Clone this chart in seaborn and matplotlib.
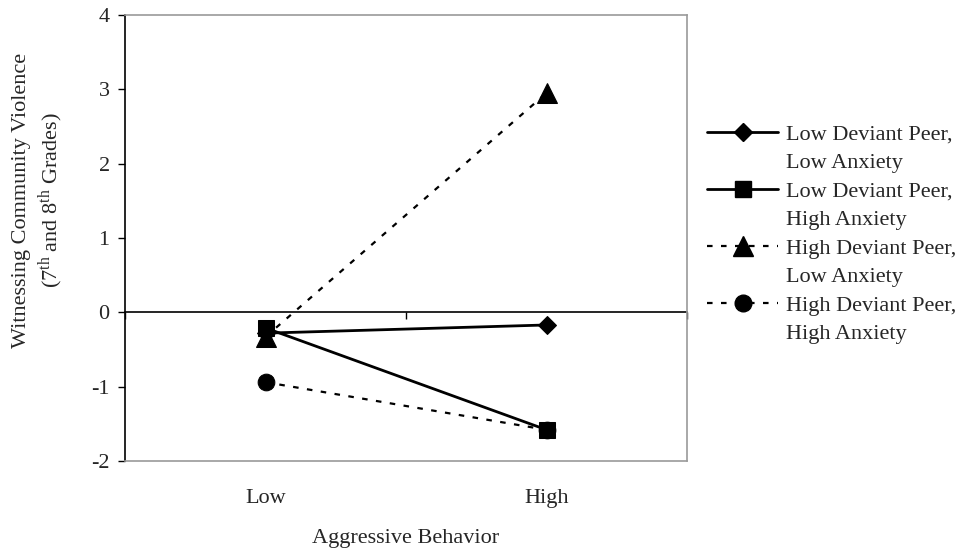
import numpy as np
import pandas as pd
import matplotlib
matplotlib.use("Agg")
import matplotlib.pyplot as plt
from matplotlib.lines import Line2D
import seaborn as sns

# data
aggression = ["Low", "High"]
series_names = [
    "Low Deviant Peer,\nLow Anxiety",
    "Low Deviant Peer,\nHigh Anxiety",
    "High Deviant Peer,\nLow Anxiety",
    "High Deviant Peer,\nHigh Anxiety",
]
low_peer_low_anx = [-0.28, -0.17]
low_peer_high_anx = [-0.21, -1.58]
high_peer_low_anx = [-0.33, 2.95]
high_peer_high_anx = [-0.94, -1.58]
y_ticks = [-2, -1, 0, 1, 2, 3, 4]

sns.set_style("white")
plt.rcParams["font.family"] = ["Liberation Serif", "DejaVu Serif"]
plt.rcParams["mathtext.fontset"] = "custom"
plt.rcParams["mathtext.rm"] = "Liberation Serif"
plt.rcParams["mathtext.it"] = "Liberation Serif:italic"

FS = 16
GRAY = "#9a9a9a"

styles = [
    dict(marker="D", markersize=9.5, linestyle="-", linewidth=2.0),
    dict(marker="s", markersize=12, linestyle="-", linewidth=2.0),
    dict(marker="^", markersize=14, linestyle=(0, (2.5, 3.8)), linewidth=1.6),
    dict(marker="o", markersize=12, linestyle=(0, (2.5, 3.8)), linewidth=1.6),
]
values = [low_peer_low_anx, low_peer_high_anx, high_peer_low_anx, high_peer_high_anx]

df = pd.DataFrame({
    "Aggressive Behavior": aggression * len(series_names),
    "Violence": np.concatenate(values),
    "Group": np.repeat(series_names, len(aggression)),
})

fig = plt.figure(figsize=(9.65, 5.5), dpi=100)
ax = fig.add_axes([125 / 965, 89 / 550, 562 / 965, 446 / 550])

for name, st in zip(series_names, styles):
    sub = df[df["Group"] == name]
    sns.lineplot(data=sub, x="Aggressive Behavior", y="Violence", ax=ax,
                 color="black", markeredgecolor="black", markerfacecolor="black",
                 legend=False, sort=False, **st)

ax.set_xlim(-0.5, 1.5)
ax.set_ylim(-2, 4)
ax.set_yticks(y_ticks)
ax.set_yticklabels([str(t) for t in y_ticks], fontsize=FS)
ax.set_xticks([0, 1])
ax.set_xticklabels(aggression, fontsize=FS)
ax.tick_params(axis="x", length=0, pad=20)
ax.tick_params(axis="y", direction="out", length=5, width=1, color="black", pad=6, left=True)

for side in ["top", "right", "bottom"]:
    ax.spines[side].set_color(GRAY)
    ax.spines[side].set_linewidth(1.2)
ax.spines["left"].set_color("black")
ax.spines["left"].set_linewidth(1.2)

# zero line with category boundary ticks
sec = ax.secondary_xaxis(1 / 3)
sec.set_xticks([-0.5, 0.5, 1.5])
sec.xaxis.set_ticks_position("bottom")
sec.tick_params(axis="x", direction="out", length=5, width=1, color="black",
                labelbottom=False, labeltop=False)
for side in ["top", "left", "right"]:
    sec.spines[side].set_visible(False)
sec.spines["bottom"].set_color("black")
sec.spines["bottom"].set_linewidth(1.2)

ax.set_xlabel("Aggressive Behavior", fontsize=FS, labelpad=15)
ax.set_ylabel("Witnessing Community Violence\n(7$^{\\rm th}$ and 8$^{\\rm th}$ Grades)",
              fontsize=FS, linespacing=1.3)
ax.yaxis.set_label_coords(-0.105, 0.585)

# legend: handle sits on the first line of each two-line label
handles, labels = [], []
for name, st in zip(series_names, styles):
    first, second = name.split("\n")
    handles.append(Line2D([], [], color="black", markerfacecolor="black",
                          markeredgecolor="black", **st))
    labels.append(first)
    handles.append(Line2D([], [], linestyle="none"))
    labels.append(second)
ax.legend(handles, labels, loc="upper left", bbox_to_anchor=(707 / 965, (550 - 124) / 550),
          bbox_transform=fig.transFigure, frameon=False, fontsize=FS, borderpad=0,
          handlelength=3.2, handletextpad=0.35, labelspacing=0.36, borderaxespad=0)

fig.savefig("out.png", dpi=100)
